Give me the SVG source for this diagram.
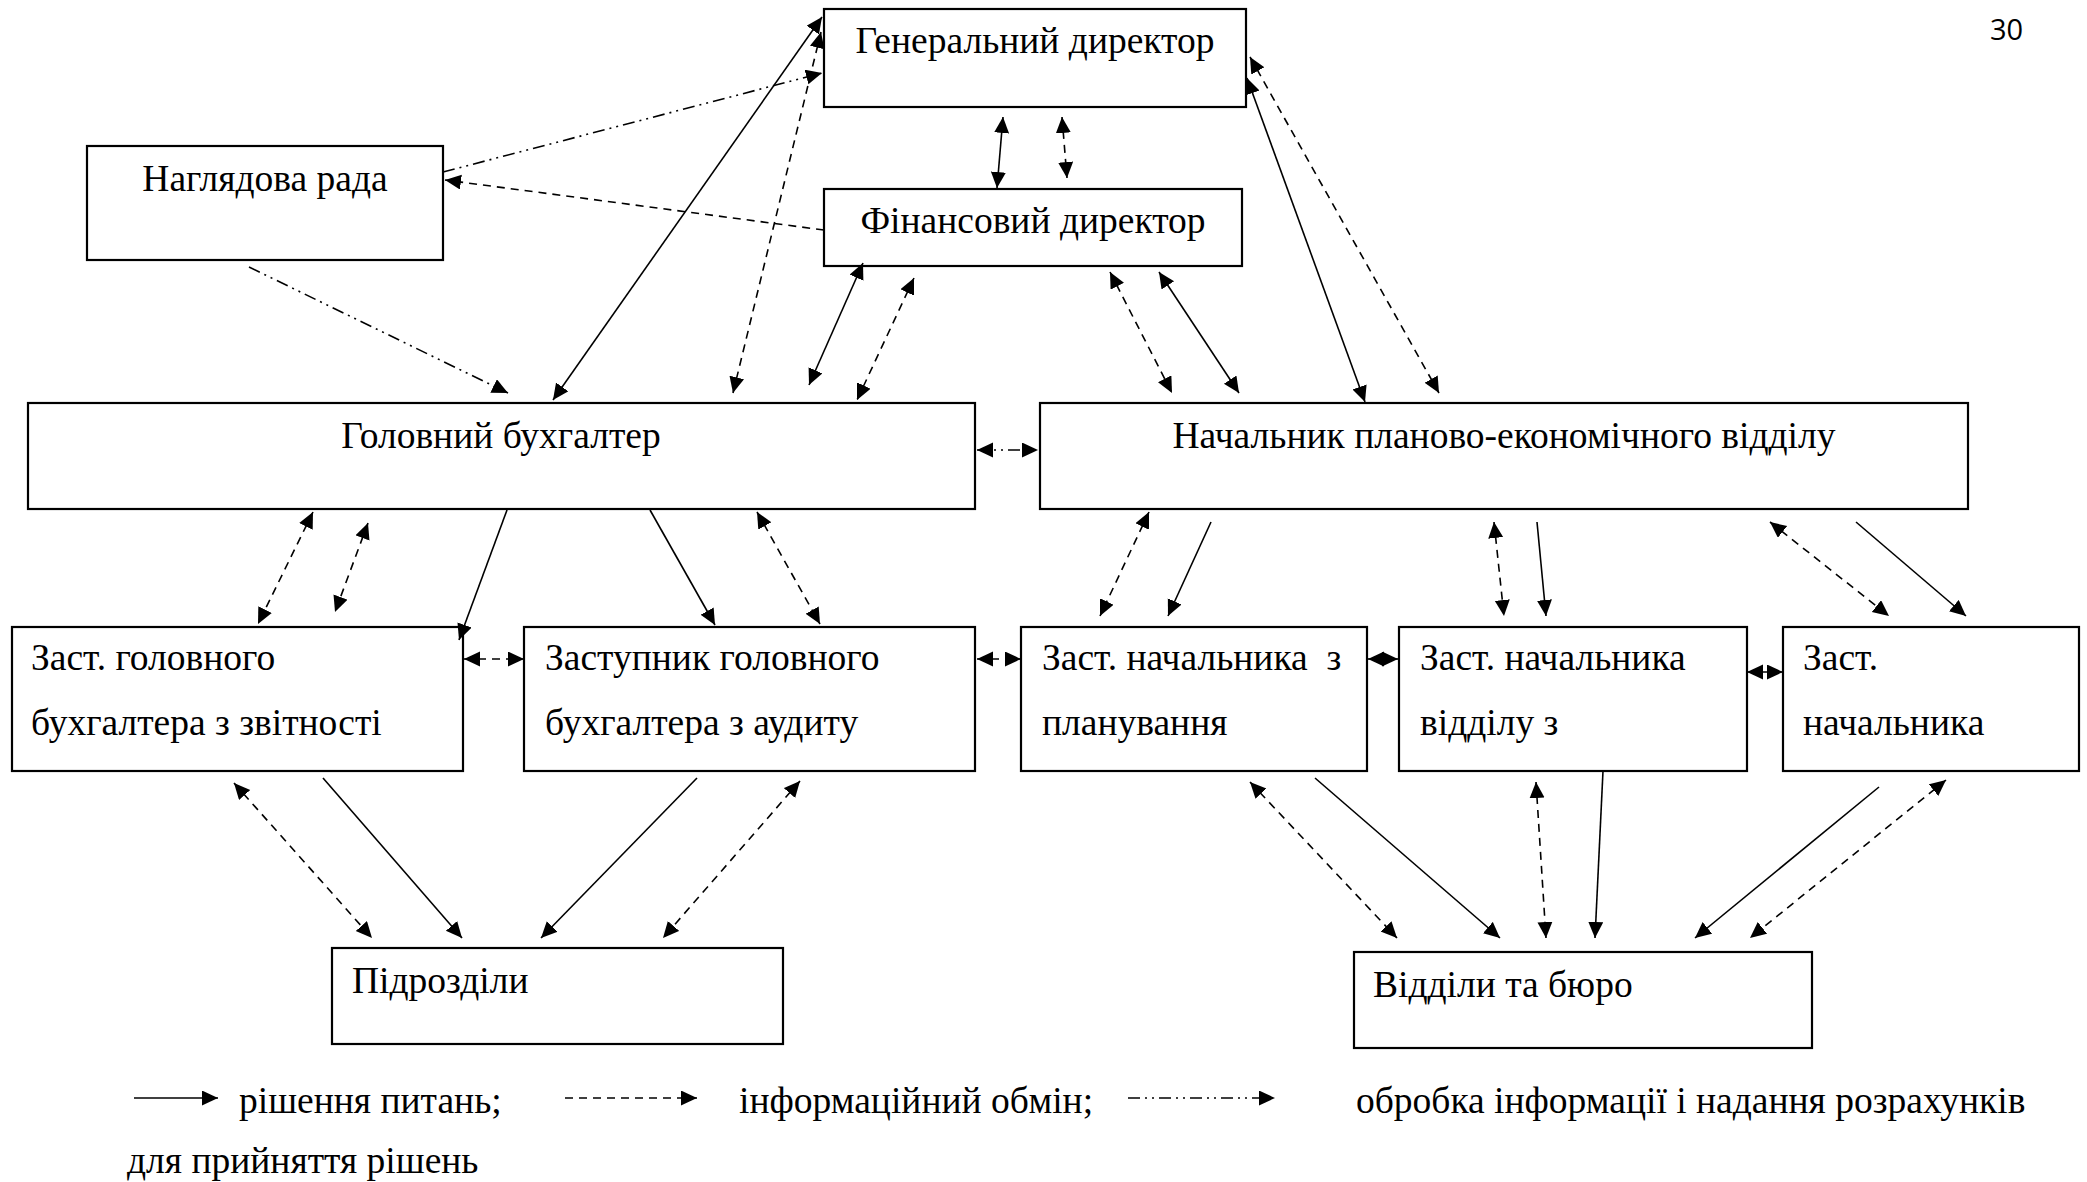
<svg xmlns="http://www.w3.org/2000/svg" width="2087" height="1182" viewBox="0 0 2087 1182">
<style>
.box{fill:#fff;stroke:#000;stroke-width:2.2}
.t{font-family:"Liberation Serif","Times New Roman",serif;font-size:37.5px;fill:#000}
.c{text-anchor:middle}
.s{fill:none;stroke:#000;stroke-width:1.6}
.d{stroke-dasharray:8 6}
.dd{stroke-dasharray:12 5 2 5 2 5}
.e{marker-end:url(#ah)}
.b{marker-start:url(#ah);marker-end:url(#ah)}
</style>
<defs>
<marker id="ah" markerUnits="userSpaceOnUse" markerWidth="17" markerHeight="16" refX="16" refY="7.5" orient="auto-start-reverse" viewBox="0 0 17 16">
<path d="M0,0 L16,7.5 L0,15 z" fill="#000"/>
</marker>
</defs>
<rect width="2087" height="1182" fill="#fff"/>
<text x="1990" y="40" style="font-family:'Open Sans','Liberation Sans',sans-serif;font-size:29px">30</text>

<g id="gen"><rect class="box" x="824" y="9" width="422" height="98"/><text class="t c" x="1035" y="53">Генеральний директор</text></g>
<g id="nag"><rect class="box" x="87" y="146" width="356" height="114"/><text class="t c" x="265" y="191">Наглядова рада</text></g>
<g id="fin"><rect class="box" x="824" y="189" width="418" height="77"/><text class="t c" x="1033" y="233">Фінансовий директор</text></g>
<g id="gb"><rect class="box" x="28" y="403" width="947" height="106"/><text class="t c" x="501" y="448">Головний бухгалтер</text></g>
<g id="np"><rect class="box" x="1040" y="403" width="928" height="106"/><text class="t c" x="1504" y="448">Начальник планово-економічного відділу</text></g>
<g id="zz"><rect class="box" x="12" y="627" width="451" height="144"/><text class="t" x="31" y="670">Заст. головного</text><text class="t" x="31" y="735">бухгалтера з звітності</text></g>
<g id="za"><rect class="box" x="524" y="627" width="451" height="144"/><text class="t" x="545" y="670">Заступник головного</text><text class="t" x="545" y="735">бухгалтера з аудиту</text></g>
<g id="zp"><rect class="box" x="1021" y="627" width="346" height="144"/><text class="t" x="1042" y="670" xml:space="preserve">Заст. начальника  з</text><text class="t" x="1042" y="735">планування</text></g>
<g id="zv"><rect class="box" x="1399" y="627" width="348" height="144"/><text class="t" x="1420" y="670">Заст. начальника</text><text class="t" x="1420" y="735">відділу з</text></g>
<g id="zn"><rect class="box" x="1783" y="627" width="296" height="144"/><text class="t" x="1803" y="670">Заст.</text><text class="t" x="1803" y="735">начальника</text></g>
<g id="pid"><rect class="box" x="332" y="948" width="451" height="96"/><text class="t" x="352" y="993">Підрозділи</text></g>
<g id="vid"><rect class="box" x="1354" y="952" width="458" height="96"/><text class="t" x="1373" y="997">Відділи та бюро</text></g>

<g id="connectors">
<line class="s b" x1="553" y1="400" x2="822" y2="17"/>
<line class="s d b" x1="733" y1="393" x2="821" y2="32"/>
<line class="s dd e" x1="443" y1="172" x2="822" y2="73"/>
<line class="s d e" x1="824" y1="230" x2="445" y2="180"/>
<line class="s dd e" x1="249" y1="267" x2="508" y2="393"/>
<line class="s b" x1="1003" y1="117" x2="997" y2="188"/>
<line class="s d b" x1="1062" y1="117" x2="1067" y2="178"/>
<line class="s b" x1="863" y1="263" x2="809" y2="385"/>
<line class="s d b" x1="914" y1="278" x2="857" y2="400"/>
<line class="s d b" x1="1110" y1="272" x2="1172" y2="393"/>
<line class="s b" x1="1159" y1="272" x2="1239" y2="393"/>
<line class="s b" x1="1247" y1="78" x2="1365" y2="402"/>
<line class="s d b" x1="1250" y1="57" x2="1439" y2="393"/>
<line class="s dd b" x1="977" y1="450" x2="1038" y2="450"/>
<line class="s d b" x1="313" y1="512" x2="258" y2="624"/>
<line class="s d b" x1="368" y1="523" x2="335" y2="612"/>
<line class="s e" x1="507" y1="510" x2="459" y2="640"/>
<line class="s e" x1="650" y1="510" x2="715" y2="625"/>
<line class="s d b" x1="757" y1="512" x2="820" y2="624"/>
<line class="s d b" x1="464" y1="659" x2="524" y2="659"/>
<line class="s d b" x1="977" y1="659" x2="1021" y2="659"/>
<line class="s b" x1="1368" y1="659" x2="1398" y2="659"/>
<line class="s b" x1="1747" y1="672" x2="1783" y2="672"/>
<line class="s d b" x1="1149" y1="512" x2="1100" y2="616"/>
<line class="s e" x1="1211" y1="522" x2="1168" y2="616"/>
<line class="s d b" x1="1494" y1="522" x2="1504" y2="616"/>
<line class="s e" x1="1537" y1="522" x2="1546" y2="616"/>
<line class="s d b" x1="1770" y1="522" x2="1889" y2="616"/>
<line class="s e" x1="1856" y1="522" x2="1966" y2="616"/>
<line class="s d b" x1="234" y1="783" x2="372" y2="938"/>
<line class="s e" x1="323" y1="778" x2="462" y2="938"/>
<line class="s e" x1="697" y1="778" x2="541" y2="938"/>
<line class="s d b" x1="800" y1="781" x2="663" y2="938"/>
<line class="s d b" x1="1250" y1="782" x2="1397" y2="938"/>
<line class="s e" x1="1315" y1="778" x2="1500" y2="938"/>
<line class="s d b" x1="1536" y1="782" x2="1546" y2="938"/>
<line class="s e" x1="1603" y1="771" x2="1595" y2="938"/>
<line class="s e" x1="1879" y1="787" x2="1695" y2="938"/>
<line class="s d b" x1="1946" y1="780" x2="1750" y2="938"/>
<line class="s e" x1="134" y1="1098" x2="218" y2="1098"/>
<line class="s d e" x1="565" y1="1098" x2="697" y2="1098"/>
<line class="s dd e" x1="1128" y1="1098" x2="1275" y2="1098"/>
</g>
<text class="t" x="239" y="1113">рішення питань;</text>
<text class="t" x="739" y="1113">інформаційний обмін;</text>
<text class="t" x="1356" y="1113">обробка інформації і надання розрахунків</text>
<text class="t" x="127" y="1173">для прийняття рішень</text>
</svg>
